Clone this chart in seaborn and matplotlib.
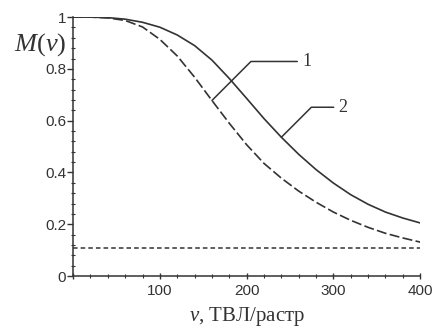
import matplotlib
matplotlib.use("Agg")
import matplotlib.pyplot as plt
from matplotlib.ticker import MultipleLocator, FuncFormatter
import seaborn as sns

# spatial frequency, TVL/raster
nu = [0, 20, 40, 60, 80, 100, 120, 140, 160, 180, 200,
      220, 240, 260, 280, 300, 320, 340, 360, 380, 400]
# curve 1 (dashed)
m1 = [1.000, 1.000, 0.997, 0.987, 0.962, 0.914, 0.850, 0.768, 0.678, 0.590, 0.507,
      0.435, 0.378, 0.328, 0.285, 0.247, 0.215, 0.188, 0.165, 0.147, 0.131]
# curve 2 (solid)
m2 = [1.000, 1.000, 0.998, 0.992, 0.980, 0.961, 0.931, 0.890, 0.834, 0.763, 0.686,
      0.608, 0.536, 0.470, 0.411, 0.359, 0.314, 0.277, 0.247, 0.224, 0.205]
# threshold level (dotted)
thr_nu = [0, 400]
thr_m = [0.11, 0.11]

sns.set_style("ticks")
plt.rcParams['font.family'] = ['Liberation Sans', 'DejaVu Sans']
plt.rcParams['mathtext.fontset'] = 'custom'
plt.rcParams['mathtext.rm'] = 'Liberation Serif'
plt.rcParams['mathtext.it'] = 'Liberation Serif:italic'

ink = "#333333"
fig = plt.figure(figsize=(4.35, 3.29), dpi=100)
ax = fig.add_axes([0.168, 0.161, 0.798, 0.787])

sns.lineplot(x=nu, y=m2, ax=ax, color=ink, linewidth=1.2)
sns.lineplot(x=nu, y=m1, ax=ax, color=ink, linewidth=1.2, linestyle=(0, (6, 2)))
sns.lineplot(x=thr_nu, y=thr_m, ax=ax, color=ink, linewidth=1.1, linestyle=(0, (3, 2)))

ax.set_xlim(0, 400)
ax.set_ylim(0, 1)
sns.despine(ax=ax)
for s in ("left", "bottom"):
    ax.spines[s].set_color(ink)
    ax.spines[s].set_linewidth(1.1)

ax.xaxis.set_major_locator(MultipleLocator(100))
ax.xaxis.set_minor_locator(MultipleLocator(20))
ax.yaxis.set_major_locator(MultipleLocator(0.2))
ax.yaxis.set_minor_locator(MultipleLocator(0.04))
ax.xaxis.set_major_formatter(FuncFormatter(lambda v, p: "" if v == 0 else "%g" % v))
ax.yaxis.set_major_formatter(FuncFormatter(lambda v, p: "%g" % v))
ax.tick_params(axis="both", which="major", colors=ink, labelsize=11, length=4, width=1)
ax.tick_params(axis="y", which="major", direction="out", pad=1)
ax.tick_params(axis="x", which="major", direction="inout", length=5, pad=3)
ax.tick_params(axis="both", which="minor", direction="inout", length=3, width=0.8, colors=ink)

serif = ['Liberation Serif', 'DejaVu Serif']
ax.set_xlabel(r"$\nu$, ТВЛ/растр", family=serif, fontsize=15, color=ink, labelpad=5)
fig.text(0.092, 0.865, r"$M(\nu)$", fontsize=19, color=ink, ha="center", va="center")

# curve labels with leaders
ax.annotate("1", xy=(nu[8], m1[8]), xytext=(90, 39), textcoords="offset pixels",
            family=serif, fontsize=13, color=ink, ha="left", va="center",
            arrowprops=dict(arrowstyle="-", color=ink, lw=1.1, shrinkA=1, shrinkB=0,
                            relpos=(0, 0.5), connectionstyle="angle,angleA=0,angleB=45,rad=0"))
ax.annotate("2", xy=(nu[12], m2[12]), xytext=(57, 30), textcoords="offset pixels",
            family=serif, fontsize=13, color=ink, ha="left", va="center",
            arrowprops=dict(arrowstyle="-", color=ink, lw=1.1, shrinkA=1, shrinkB=0,
                            relpos=(0, 0.5), connectionstyle="angle,angleA=0,angleB=45,rad=0"))

fig.savefig("out.png", dpi=100)
